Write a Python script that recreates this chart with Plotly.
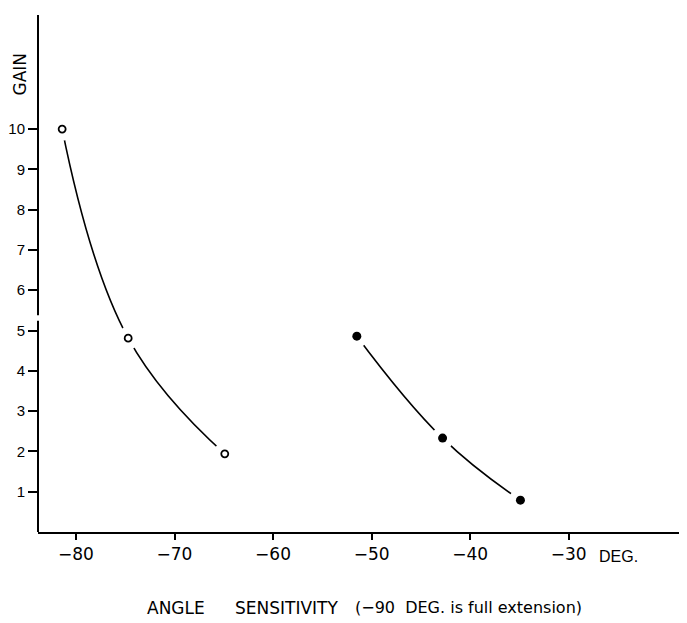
import plotly.graph_objects as go

# Data
open_angle = [-81.4, -74.7, -64.9]
open_gain = [10.0, 4.81, 1.94]
filled_angle = [-51.5, -42.8, -34.9]
filled_gain = [4.86, 2.33, 0.79]

x_ticks = [-80, -70, -60, -50, -40, -30]
x_ticktext = ["\u221280", "\u221270", "\u221260", "\u221250", "\u221240", "\u221230"]
y_ticks = [1, 2, 3, 4, 5, 6, 7, 8, 9, 10]

FONT = "Liberation Sans, Arial, sans-serif"
WIDE = "DejaVu Sans, Verdana, sans-serif"
series = [(open_angle, open_gain, False), (filled_angle, filled_gain, True)]

fig = go.Figure()

# curves first
for xs, ys, filled in series:
    fig.add_trace(go.Scatter(x=xs, y=ys, mode="lines",
                             line=dict(color="black", width=1.6, shape="spline", smoothing=1.2),
                             hoverinfo="skip", showlegend=False))
# white masks to create gaps around markers
for xs, ys, filled in series:
    fig.add_trace(go.Scatter(x=xs, y=ys, mode="markers",
                             marker=dict(symbol="circle", size=23, color="white",
                                         line=dict(width=0), opacity=1),
                             hoverinfo="skip", showlegend=False))
# markers
for xs, ys, filled in series:
    if filled:
        mk = dict(symbol="circle", size=9, color="black", line=dict(width=0))
    else:
        mk = dict(symbol="circle", size=7, color="white", line=dict(color="black", width=1.8))
    fig.add_trace(go.Scatter(x=xs, y=ys, mode="markers", marker=mk, showlegend=False))

# y axis line with a small break between 5 and 6
fig.add_shape(type="line", xref="paper", yref="y", x0=0, x1=0, y0=0, y1=5.24,
              line=dict(color="black", width=2))
fig.add_shape(type="line", xref="paper", yref="y", x0=0, x1=0, y0=5.38, y1=12.83,
              line=dict(color="black", width=2))

fig.add_annotation(text="GAIN", xref="paper", yref="paper", x=-0.0285, y=0.886,
                   xanchor="center", yanchor="middle",
                   textangle=-90, showarrow=False,
                   font=dict(family=WIDE, size=17, color="black"))
fig.add_annotation(text="DEG.", xref="x", yref="paper", x=-25.0, y=-0.048,
                   xanchor="center", yanchor="middle", showarrow=False,
                   font=dict(family=FONT, size=16, color="black"))

# axis title, split in word groups as spaced in the original
title_parts = [("ANGLE", 0.165, 17), ("SENSITIVITY", 0.300, 17),
               ("(\u221290&nbsp;&nbsp;DEG. is full extension)", 0.486, 16)]
for txt, xp, sz in title_parts:
    fig.add_annotation(text=txt, xref="paper", yref="paper", x=xp, y=-0.147,
                       xanchor="left", yanchor="middle", showarrow=False,
                       font=dict(family=WIDE, size=sz, color="black"))

# The page body adds an 8px offset, so margins are reduced accordingly
fig.update_layout(
    width=687, height=623,
    margin=dict(l=30, r=8, t=7, b=99, autoexpand=False),
    paper_bgcolor="white", plot_bgcolor="white",
    font=dict(family=FONT, size=15, color="black"),
    xaxis=dict(range=[-83.85, -18.0], tickvals=x_ticks, ticktext=x_ticktext,
               automargin=False,
               showgrid=False, zeroline=False, showline=True, linecolor="black", linewidth=2,
               ticks="outside", ticklen=6, tickwidth=2, tickcolor="black",
               tickfont=dict(family=WIDE, size=17)),
    yaxis=dict(range=[0, 12.83], tickvals=y_ticks, automargin=False,
               showgrid=False, zeroline=False, showline=False,
               ticks="outside", ticklen=9, tickwidth=1.6, tickcolor="black",
               tickfont=dict(family=FONT, size=15)),
)

fig.write_html("out.html")
